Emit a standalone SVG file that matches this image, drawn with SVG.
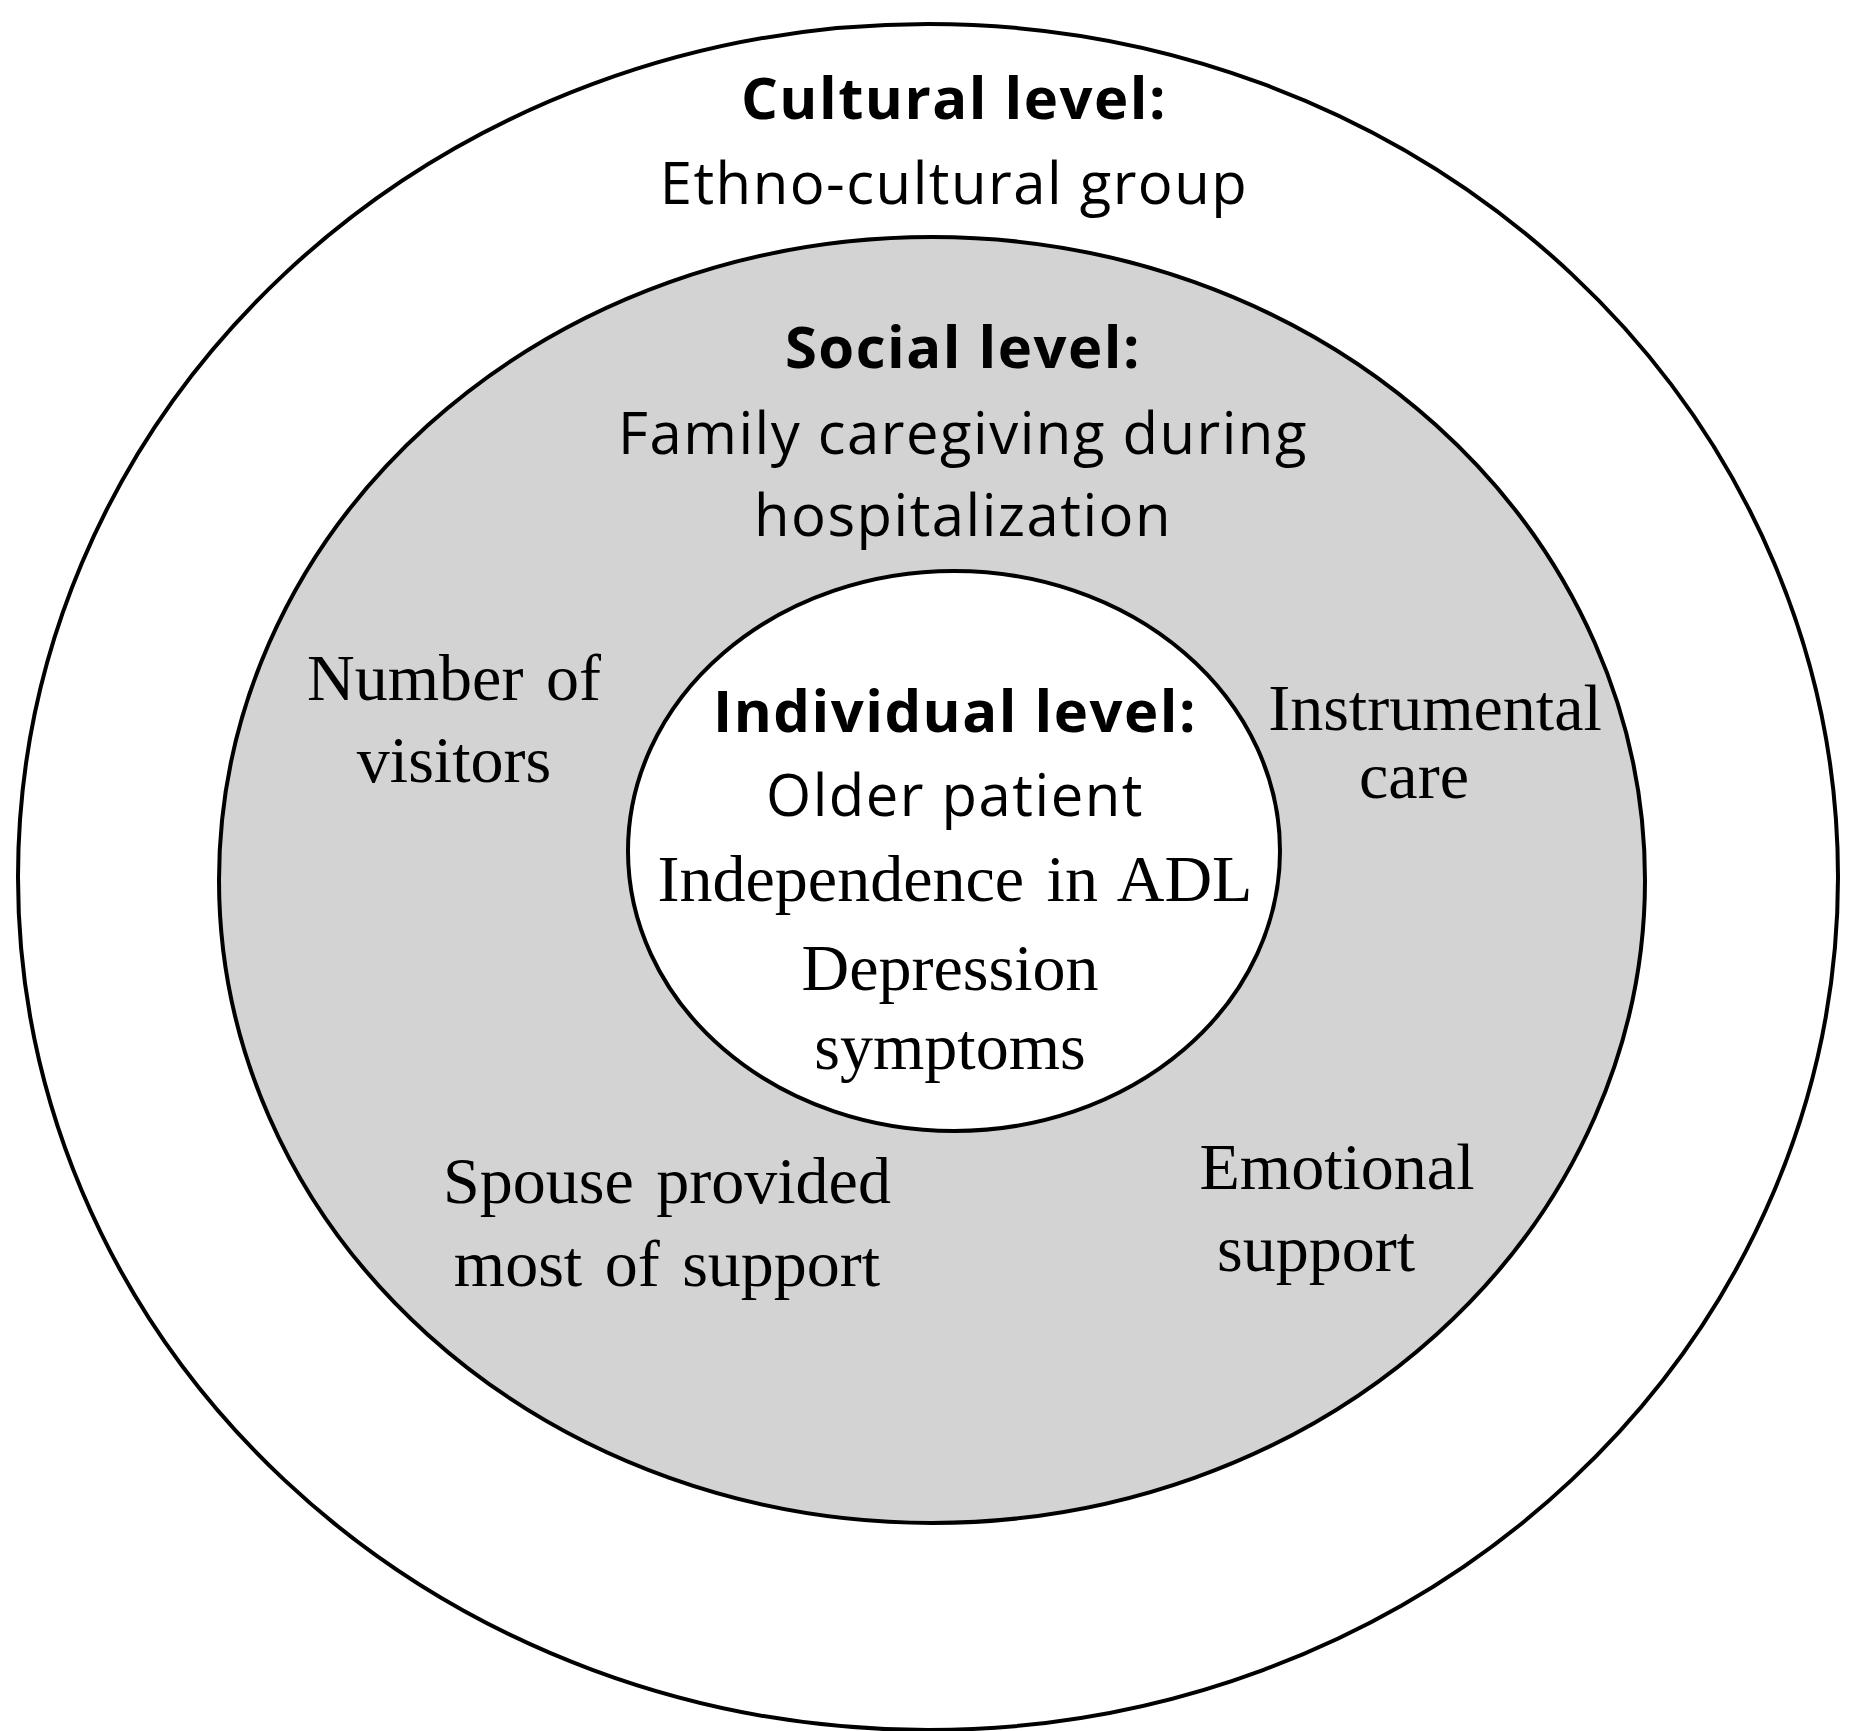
<svg xmlns="http://www.w3.org/2000/svg" width="1859" height="1731" viewBox="0 0 1859 1731">
<style>
.s{font-family:"Open Sans","Noto Sans",sans-serif;font-size:58px;letter-spacing:1.5px;text-anchor:middle;fill:#000}
.b{font-weight:bold}
.r{font-family:"Liberation Serif",serif;font-size:66px;text-anchor:middle;fill:#000;word-spacing:6px}
ellipse{stroke:#000;stroke-width:4}
</style>
<rect width="1859" height="1731" fill="#fff"/>
<g id="cultural">
<ellipse cx="928" cy="877" rx="910" ry="853" fill="#fff"/>
<text class="s b" x="954" y="119">Cultural level:</text>
<text class="s" x="954" y="204">Ethno-cultural group</text>
</g>
<g id="social">
<ellipse cx="932" cy="880" rx="713" ry="643" fill="#d3d3d3"/>
<text class="s b" x="963" y="368">Social level:</text>
<text class="s" x="963" y="454">Family caregiving during</text>
<text class="s" x="963" y="536">hospitalization</text>
<text class="r" x="454" y="700">Number of</text>
<text class="r" x="454" y="782">visitors</text>
<text class="r" x="1435" y="730">Instrumental</text>
<text class="r" x="1414" y="798">care</text>
<text class="r" x="667" y="1203">Spouse provided</text>
<text class="r" x="667" y="1286">most of support</text>
<text class="r" x="1337" y="1189">Emotional</text>
<text class="r" x="1316" y="1271">support</text>
</g>
<g id="individual">
<ellipse cx="954" cy="851" rx="326" ry="280" fill="#fff"/>
<text class="s b" x="955" y="732" font-size="54">Individual level:</text>
<text class="s" x="955" y="816">Older patient</text>
<text class="r" x="955" y="901" font-size="64">Independence  in ADL</text>
<text class="r" x="950" y="990">Depression</text>
<text class="r" x="950" y="1069">symptoms</text>
</g>
<g id="connectors"/>
</svg>
